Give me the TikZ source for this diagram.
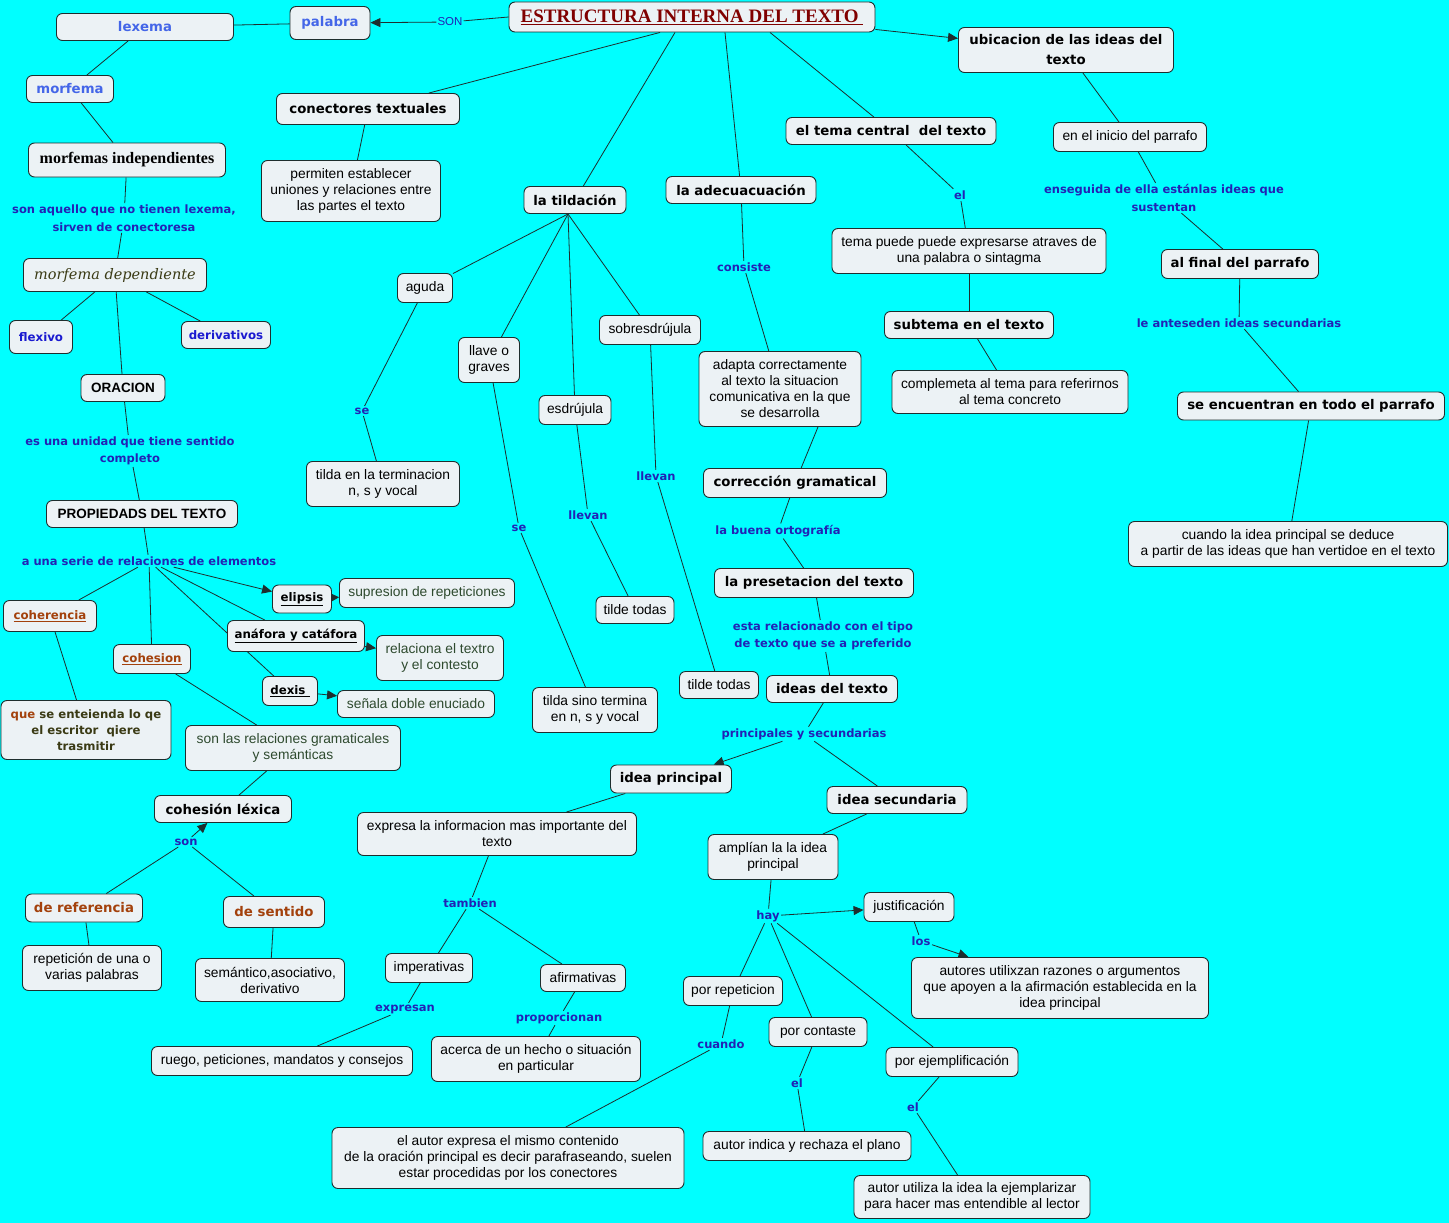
\documentclass[tikz,border=0pt]{standalone}
\usepackage{fontspec}
\setmainfont{Liberation Sans}
\newfontfamily\verdana{DejaVu Sans}
\newfontfamily\timesrm{Liberation Serif}
\newfontfamily\bookit{DejaVu Serif}
\usetikzlibrary{arrows.meta,backgrounds}
\definecolor{mapbg}{HTML}{00FFFF}
\definecolor{boxfill}{HTML}{ECF2F5}
\definecolor{edgeink}{HTML}{1E2E2E}
\definecolor{linkblue}{HTML}{2222B5}
\definecolor{topblue}{HTML}{4466E8}
\definecolor{navyblue}{HTML}{1A1AD0}
\definecolor{brownred}{HTML}{A3410C}
\definecolor{olivetext}{HTML}{3A3A14}
\definecolor{greentext}{HTML}{2E4A2E}
\definecolor{titlered}{HTML}{800000}

\begin{document}
\begin{tikzpicture}[x=1pt,y=-1pt,
  sz/.style 2 args={minimum width=#1pt, minimum height=#2pt},
  concept/.style={draw=edgeink, line width=0.9pt, fill=boxfill, rounded corners=6pt,
    align=center, inner xsep=3pt, inner ysep=2pt, text=black,
    font=\fontsize{13.8}{16}\selectfont},
  keyconcept/.style={concept, font=\verdana\bfseries\fontsize{13.3}{20}\selectfont},
  bluekey/.style={keyconcept, text=topblue},
  underkey/.style={keyconcept, font=\verdana\bfseries\fontsize{11.8}{16}\selectfont},
  linkword/.style={font=\verdana\bfseries\fontsize{11.5}{17.5}\selectfont, text=linkblue,
    inner sep=1.5pt, align=center},
  link/.style={draw=edgeink, line width=0.8pt},
  arrowlink/.style={link, -{Triangle[length=10pt,width=9pt]}}]

\useasboundingbox (0,0) rectangle (1449,1223);
\begin{scope}[on background layer]
  \fill[mapbg] (0,0) rectangle (1449,1223);
\end{scope}

% raiz
\node[concept, sz={366}{30}, font=\timesrm\bfseries\fontsize{19}{20}\selectfont, text=titlered] (estructura) at (692,17) {\underline{ESTRUCTURA INTERNA DEL TEXTO\ }};
\node[inner sep=1pt, text=linkblue, font=\fontsize{11.5}{14}\selectfont] (lsonraiz) at (450,22) {SON};

% palabra y morfemas
\node[bluekey, sz={80}{33}] (palabra) at (330,23) {palabra};
\node[bluekey, sz={177}{27}] (lexema) at (145,27) {lexema};
\node[bluekey, sz={87}{27}] (morfema) at (70,89) {morfema};
\node[concept, sz={197}{34}, font=\timesrm\bfseries\fontsize{16}{18}\selectfont] (morfindep) at (127,160) {morfemas independientes};
\node[linkword] (laquello) at (124,218) {son aquello que no tienen lexema,\\sirven de conectoresa};
\node[concept, sz={183}{33}, font=\bookit\itshape\fontsize{14.5}{18}\selectfont, text=olivetext] (morfdep) at (115,275) {morfema dependiente};
\node[underkey, sz={63}{33}, text=navyblue] (flexivo) at (41,337) {flexivo};
\node[underkey, sz={89}{27}, text=navyblue] (derivativos) at (226,335) {derivativos};
\node[concept, sz={84}{27}, font=\bfseries\fontsize{13.5}{16}\selectfont] (oracion) at (123,388) {ORACION};
\node[linkword] (lunidad) at (130,451) {es una unidad que tiene sentido\\completo};
\node[concept, sz={191}{27}, font=\bfseries\fontsize{13.5}{16}\selectfont] (propiedades) at (142,514) {PROPIEDADS DEL TEXTO};
\node[linkword] (lserie) at (149,561) {a una serie de relaciones de elementos};

% propiedades
\node[underkey, sz={93}{31}, text=brownred] (coherencia) at (50,616) {\underline{coherencia}};
\node[underkey, sz={77}{29}, text=brownred] (cohesion) at (152,659) {\underline{cohesion}};
\node[underkey, sz={59}{28}] (elipsis) at (302,599) {\underline{elipsis}};
\node[concept, sz={175}{29}, text=greentext] (supresion) at (427,593) {supresion de repeticiones};
\node[underkey, sz={137}{31}] (anafora) at (296,636) {\underline{anáfora y catáfora}};
\node[concept, sz={127}{45}, text=greentext] (relaciona) at (440,658) {relaciona el textro\\y el contesto};
\node[underkey, sz={55}{29}] (dexis) at (290,691) {\underline{dexis\ }};
\node[concept, sz={157}{27}, text=greentext] (senala) at (416,704) {señala doble enuciado};
\node[concept, sz={170}{59}, font=\verdana\bfseries\fontsize{11.7}{16}\selectfont, text=olivetext] (entienda) at (86,730) {\textcolor{brownred}{que} se enteienda lo qe\\el escritor\ \ qiere\\trasmitir};
\node[concept, sz={215}{45}, text=greentext] (relgram) at (293,748) {son las relaciones gramaticales\\y semánticas};
\node[keyconcept, sz={137}{27}] (cohlexica) at (223,809) {cohesión léxica};
\node[linkword] (lson) at (186,842) {son};
\node[keyconcept, sz={117}{28}, text=brownred] (referencia) at (84,908) {de referencia};
\node[keyconcept, sz={101}{31}, text=brownred] (sentido) at (274,912) {de sentido};
\node[concept, sz={139}{45}] (repeticion) at (92,968) {repetición de una o\\varias palabras};
\node[concept, sz={149}{43}] (semantico) at (270,980) {semántico,asociativo,\\derivativo};

% conectores y tildacion
\node[keyconcept, sz={183}{31}] (conectores) at (368,109) {conectores textuales};
\node[concept, sz={179}{61}] (permiten) at (351,191) {permiten establecer\\uniones y relaciones entre\\las partes el texto};
\node[keyconcept, sz={102}{27}] (tildacion) at (575,200) {la tildación};
\coordinate (tildpunto) at (568,214);
\node[concept, sz={55}{29}] (aguda) at (425,288) {aguda};
\node[linkword] (lse1) at (362,411) {se};
\node[concept, sz={153}{45}] (terminacion) at (383,484) {tilda en la terminacion\\n, s y vocal};
\node[concept, sz={61}{45}] (graves) at (489,360) {llave o\\graves};
\node[linkword] (lse2) at (519,528) {se};
\node[concept, sz={125}{45}] (sinotermina) at (595,710) {tilda sino termina\\en n, s y vocal};
\node[concept, sz={72}{29}] (esdrujula) at (575,410) {esdrújula};
\node[linkword] (lllevan1) at (588,515) {llevan};
\node[concept, sz={78}{27}] (todas1) at (635,610) {tilde todas};
\node[concept, sz={101}{29}] (sobresdrujula) at (650,330) {sobresdrújula};
\node[linkword] (lllevan2) at (656,476) {llevan};
\node[concept, sz={79}{27}] (todas2) at (719,685) {tilde todas};

% adecuacion
\node[keyconcept, sz={150}{27}] (adecuacion) at (741,190) {la adecuacuación};
\node[linkword] (lconsiste) at (744,267) {consiste};
\node[concept, sz={162}{75}] (adapta) at (780,389) {adapta correctamente\\al texto la situacion\\comunicativa en la que\\se desarrolla};
\node[keyconcept, sz={183}{29}] (correccion) at (795,483) {corrección gramatical};
\node[linkword] (lortografia) at (778,531) {la buena ortografía};
\node[keyconcept, sz={199}{29}] (presentacion) at (814,583) {la presetacion del texto};
\node[linkword] (ltipo) at (823,636) {esta relacionado con el tipo\\de texto que se a preferido};
\node[keyconcept, sz={131}{27}] (ideastexto) at (832,689) {ideas del texto};
\node[linkword] (lprincipales) at (804,734) {principales y secundarias};
\node[keyconcept, sz={121}{28}] (ideaprincipal) at (671,779) {idea principal};
\node[keyconcept, sz={140}{27}] (ideasecundaria) at (897,800) {idea secundaria};

% idea principal
\node[concept, sz={279}{43}] (expresa) at (497,834) {expresa la informacion mas importante del\\texto};
\node[linkword] (ltambien) at (470,903) {tambien};
\node[concept, sz={87}{29}] (imperativas) at (429,968) {imperativas};
\node[concept, sz={85}{27}] (afirmativas) at (583,978) {afirmativas};
\node[linkword] (lexpresan) at (405,1009) {expresan};
\node[concept, sz={261}{29}] (ruego) at (282,1061) {ruego, peticiones, mandatos y consejos};
\node[linkword] (lproporcionan) at (559,1018) {proporcionan};
\node[concept, sz={209}{45}] (acerca) at (536,1059) {acerca de un hecho o situación\\en particular};

% idea secundaria
\node[concept, sz={130}{45}] (amplian) at (773,857) {amplían la la idea\\principal};
\node[linkword] (lhay) at (768,916) {hay};
\node[concept, sz={90}{29}] (justificacion) at (909,907) {justificación};
\node[linkword] (llos) at (921,941) {los};
\node[concept, sz={297}{61}] (autores) at (1060,988) {autores utilixzan razones o argumentos\\que apoyen a la afirmación establecida en la\\idea principal};
\node[concept, sz={99}{29}] (porrepeticion) at (733,991) {por repeticion};
\node[linkword] (lcuando) at (721,1044) {cuando};
\node[concept, sz={352}{61}] (mismocontenido) at (508,1158) {el autor expresa el mismo contenido\\de la oración principal es decir parafraseando, suelen\\estar procedidas por los conectores};
\node[concept, sz={98}{29}] (porcontaste) at (818,1032) {por contaste};
\node[linkword] (lel2) at (797,1083) {el};
\node[concept, sz={208}{29}] (rechaza) at (807,1146) {autor indica y rechaza el plano};
\node[concept, sz={132}{29}] (porejemplo) at (952,1062) {por ejemplificación};
\node[linkword] (lel3) at (913,1107) {el};
\node[concept, sz={236}{43}] (ejemplarizar) at (972,1197) {autor utiliza la idea la ejemplarizar\\para hacer mas entendible al lector};

% tema central
\node[keyconcept, sz={210}{27}] (temacentral) at (891,131) {el tema central\ \ del texto};
\node[linkword] (lel1) at (960,195) {el};
\node[concept, sz={274}{45}] (temapuede) at (969,251) {tema puede puede expresarse atraves de\\una palabra o sintagma};
\node[keyconcept, sz={169}{27}] (subtema) at (969,325) {subtema en el texto};
\node[concept, sz={236}{43}] (complemeta) at (1010,392) {complemeta al tema para referirnos\\al tema concreto};

% ubicacion
\node[keyconcept, sz={215}{45}] (ubicacion) at (1066,50) {ubicacion de las ideas del\\texto};
\node[concept, sz={153}{29}] (inicio) at (1130,137) {en el inicio del parrafo};
\node[linkword] (lenseguida) at (1164,198) {enseguida de ella estánlas ideas que\\sustentan};
\node[keyconcept, sz={157}{29}] (alfinal) at (1240,264) {al final del parrafo};
\node[linkword] (lanteseden) at (1239,323) {le anteseden ideas secundarias};
\node[keyconcept, sz={267}{28}] (todoparrafo) at (1311,406) {se encuentran en todo el parrafo};
\node[concept, sz={319}{45}] (deduce) at (1288,544) {cuando la idea principal se deduce\\ a partir de las ideas que han vertidoe en el texto};

% conexiones
\begin{scope}[on background layer]
  \draw[link] (estructura.west) -- (lsonraiz);
  \draw[arrowlink] (lsonraiz) -- (palabra);
  \draw[link] (palabra) -- (lexema);
  \draw[link] (lexema) -- (morfema);
  \draw[link] (morfema) -- (morfindep);
  \draw[link] (morfindep) -- (laquello);
  \draw[link] (laquello) -- (morfdep);
  \draw[link] (morfdep) -- (flexivo);
  \draw[link] (morfdep) -- (derivativos);
  \draw[link] (morfdep) -- (oracion);
  \draw[link] (oracion) -- (lunidad);
  \draw[link] (lunidad) -- (propiedades);
  \draw[link] (propiedades) -- (lserie);
  \draw[link] (lserie) -- (coherencia);
  \draw[link] (lserie) -- (cohesion);
  \draw[arrowlink] (lserie) -- (elipsis);
  \draw[link] (lserie) -- (anafora);
  \draw[link] (lserie) -- (dexis);
  \draw[link, -{Triangle[length=7pt,width=7pt]}] (elipsis) -- (supresion);
  \draw[arrowlink] (anafora) -- (relaciona);
  \draw[arrowlink] (dexis) -- (senala);
  \draw[link] (coherencia) -- (entienda);
  \draw[link] (cohesion) -- (relgram);
  \draw[link] (relgram) -- (cohlexica);
  \draw[arrowlink] (lson) -- (cohlexica);
  \draw[link] (lson) -- (referencia);
  \draw[link] (lson) -- (sentido);
  \draw[link] (referencia) -- (repeticion);
  \draw[link] (sentido) -- (semantico);

  \draw[link] ([xshift=-32pt]estructura.south) -- (conectores);
  \draw[link] (conectores) -- (permiten);
  \draw[link] ([xshift=-17pt]estructura.south) -- (tildacion);
  \draw[link] (tildpunto) -- (aguda);
  \draw[link] (tildpunto) -- (graves);
  \draw[link] (tildpunto) -- (esdrujula);
  \draw[link] (tildpunto) -- (sobresdrujula);
  \draw[link] (aguda) -- (lse1);
  \draw[link] (lse1) -- (terminacion);
  \draw[link] (graves) -- (lse2);
  \draw[link] (lse2) -- (sinotermina);
  \draw[link] (esdrujula) -- (lllevan1);
  \draw[link] (lllevan1) -- (todas1);
  \draw[link] (sobresdrujula) -- (lllevan2);
  \draw[link] (lllevan2) -- (todas2);

  \draw[link] ([xshift=33pt]estructura.south) -- (adecuacion);
  \draw[link] (adecuacion) -- (lconsiste);
  \draw[link] (lconsiste) -- (adapta);
  \draw[link] ([xshift=38pt]adapta.south) -- (correccion);
  \draw[link] (correccion) -- (lortografia);
  \draw[link] (lortografia) -- (presentacion);
  \draw[link] (presentacion) -- (ltipo);
  \draw[link] (ltipo) -- (ideastexto);
  \draw[link] (ideastexto) -- (lprincipales);
  \draw[arrowlink] (lprincipales) -- (ideaprincipal);
  \draw[link] (lprincipales) -- (ideasecundaria);

  \draw[link] (ideaprincipal) -- (expresa);
  \draw[link] (expresa) -- (ltambien);
  \draw[link] (ltambien) -- (imperativas);
  \draw[link] (ltambien) -- (afirmativas);
  \draw[link] (imperativas) -- (lexpresan);
  \draw[link] (lexpresan) -- (ruego);
  \draw[link] (afirmativas) -- (lproporcionan);
  \draw[link] (lproporcionan) -- (acerca);

  \draw[link] (ideasecundaria) -- (amplian);
  \draw[link] (amplian) -- (lhay);
  \draw[arrowlink] (lhay) -- (justificacion);
  \draw[link] (lhay) -- (porrepeticion);
  \draw[link] (lhay) -- (porcontaste);
  \draw[link] (lhay) -- (porejemplo);
  \draw[link] (justificacion) -- (llos);
  \draw[arrowlink] (llos) -- (autores);
  \draw[link] (porrepeticion) -- (lcuando);
  \draw[link] (lcuando) -- (mismocontenido);
  \draw[link] (porcontaste) -- (lel2);
  \draw[link] (lel2) -- (rechaza);
  \draw[link] (porejemplo) -- (lel3);
  \draw[link] (lel3) -- (ejemplarizar);

  \draw[link] ([xshift=78pt]estructura.south) -- (temacentral);
  \draw[link] (temacentral) -- (lel1);
  \draw[link] (lel1) -- (temapuede);
  \draw[link] (temapuede) -- (subtema);
  \draw[link] (subtema) -- (complemeta);

  \draw[arrowlink] ([yshift=3pt]estructura.south east) -- (ubicacion);
  \draw[link] (ubicacion) -- (inicio);
  \draw[link] (inicio) -- (lenseguida);
  \draw[link] (lenseguida) -- (alfinal);
  \draw[link] (alfinal) -- (lanteseden);
  \draw[link] (lanteseden) -- (todoparrafo);
  \draw[link] (todoparrafo) -- (deduce);
\end{scope}
\end{tikzpicture}
\end{document}
